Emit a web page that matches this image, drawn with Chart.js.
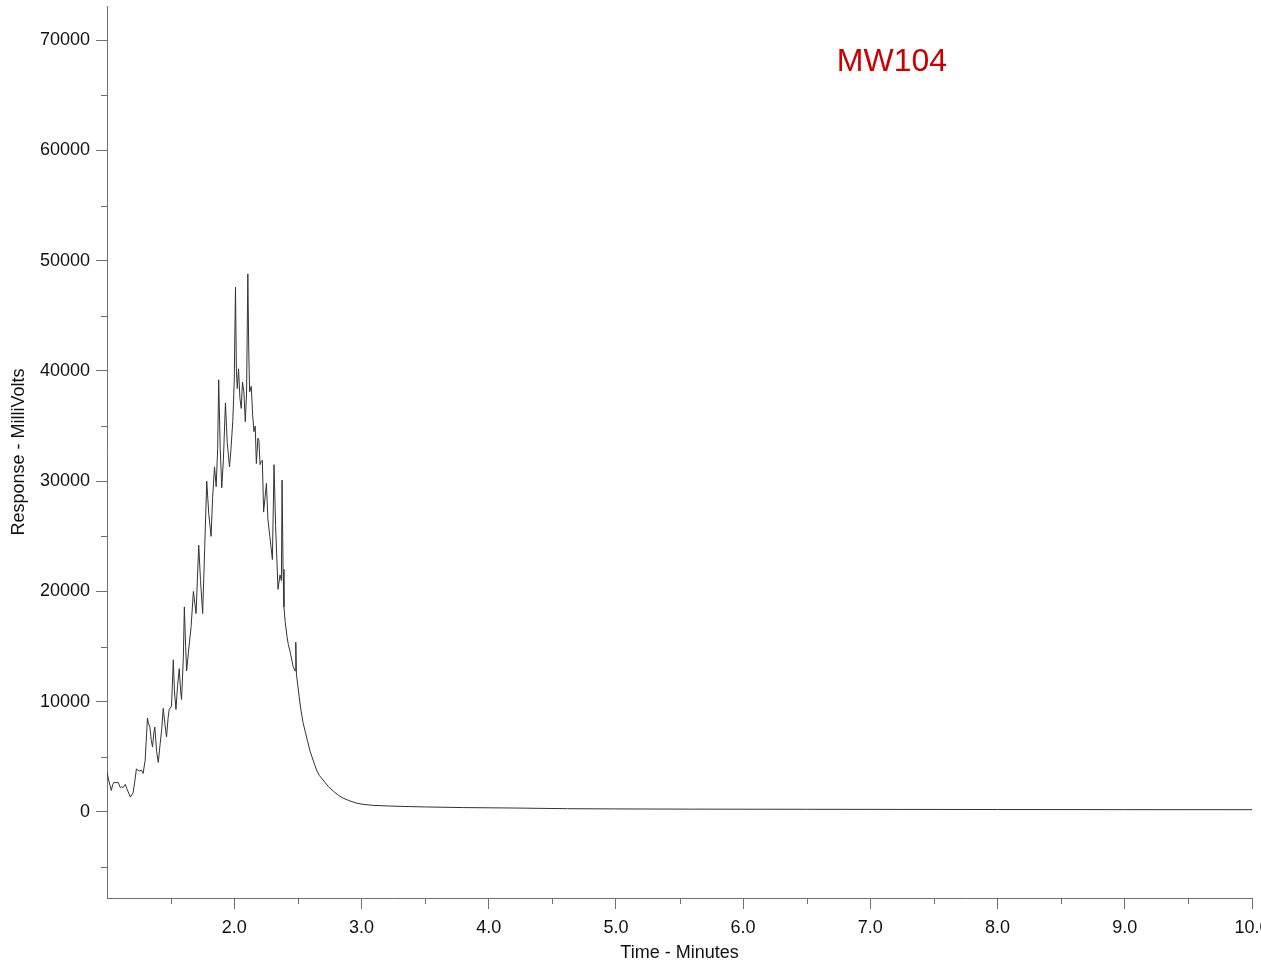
<!DOCTYPE html>
<html>
<head>
<meta charset="utf-8">
<script src="https://cdn.jsdelivr.net/npm/chart.js@4/dist/chart.umd.min.js"></script>
<style>
html,body{margin:0;padding:0;background:#fff;overflow:hidden}
#wrap{width:1261px;height:963px}
</style>
</head>
<body>
<div id="wrap"><canvas id="c" width="1261" height="963"></canvas></div>
<script>
// ---- data ----
const times = [
  1.000,1.015,1.034,1.045,1.055,1.070,1.087,1.105,1.115,1.126,1.144,1.160,1.184,1.205,1.220,1.231,1.253,1.270,1.284,1.300,
  1.318,1.327,1.337,1.348,1.358,1.368,1.376,1.390,1.403,1.416,1.430,1.442,1.455,1.468,1.480,1.489,1.507,1.521,1.530,1.542,
  1.555,1.568,1.578,1.586,1.600,1.608,1.618,1.626,1.640,1.661,1.679,1.700,1.721,1.735,1.752,1.768,1.784,1.800,1.818,1.830,
  1.845,1.858,1.870,1.878,1.890,1.902,1.915,1.931,1.945,1.963,1.975,1.989,2.000,2.010,2.017,2.024,2.034,2.045,2.055,2.065,
  2.076,2.087,2.097,2.107,2.114,2.121,2.134,2.145,2.155,2.165,2.174,2.186,2.194,2.203,2.213,2.221,2.231,2.242,2.253,2.265,
  2.280,2.300,2.313,2.325,2.344,2.360,2.371,2.376,2.384,2.391,2.400,2.415,2.425,2.440,2.463,2.478,2.484,2.489,2.510,2.525,
  2.541,2.560,2.575,2.594,2.620,2.647,2.670,2.699,2.740,2.778,2.820,2.857,2.910,2.963,3.020,3.094,3.200,3.305,3.500,3.804,
  4.200,4.620,5.000,5.600,6.500,7.225,8.000,9.000,10.000
];
const response = [
  3600,2800,1950,2500,2700,2650,2700,2200,2300,2200,2500,2000,1350,1750,2900,3900,3700,3800,3500,4700,
  8500,8000,7700,6500,5900,7200,7700,5500,4500,6000,7500,9400,8000,6800,8500,9300,9600,13800,11000,9300,
  11500,13000,11000,10200,14000,18600,15000,12800,14500,16800,20000,18000,24200,21000,18000,24000,30000,27000,25000,28500,
  31300,29500,33000,39200,33000,29400,32000,37100,33500,31300,33000,35500,39000,47600,40000,38400,40200,37500,36600,39000,
  38100,35400,38000,48800,42000,38100,38600,36000,34500,35000,31600,33900,33700,31500,31800,31900,27200,28500,29800,26500,
  25000,22900,31500,26000,20200,21500,21000,30100,22000,18600,17300,15900,15200,14500,13200,12800,15400,12500,10500,9200,
  8100,7200,6500,5600,4700,3800,3300,2900,2300,1900,1500,1250,1000,800,680,600,550,510,460,400,
  360,300,280,260,245,235,225,215,210
];
const xMajorTicks = [2,3,4,5,6,7,8,9,10];
const xMinorTicks = [1.5,2.5,3.5,4.5,5.5,6.5,7.5,8.5,9.5];
const yMajorTicks = [0,10000,20000,30000,40000,50000,60000,70000];
const yMinorTicks = [-5000,5000,15000,25000,35000,45000,55000,65000];
const xRange = [1.0, 10.0];
const yRange = [-7800, 73100];
const sampleName = 'MW104';
const sampleLabelPos = [7.17, 68000];
const xTitle = 'Time - Minutes';
const yTitle = 'Response - MilliVolts';

const points = times.map((t, i) => ({x: t, y: response[i]}));
const axisColor = '#707070';
const fontFam = '"Liberation Sans", Arial, sans-serif';

const minorTicksPlugin = {
  id: 'minorTicks',
  afterDraw(chart) {
    const ctx = chart.ctx;
    const xs = chart.scales.x, ys = chart.scales.y;
    const ca = chart.chartArea;
    ctx.save();
    ctx.strokeStyle = axisColor;
    ctx.lineWidth = 1;
    ctx.beginPath();
    xMinorTicks.forEach(v => {
      const px = Math.round(xs.getPixelForValue(v)) + 0.5;
      ctx.moveTo(px, ca.bottom);
      ctx.lineTo(px, ca.bottom + 6);
    });
    yMinorTicks.forEach(v => {
      const py = Math.round(ys.getPixelForValue(v)) + 0.5;
      ctx.moveTo(ca.left - 6, py);
      ctx.lineTo(ca.left, py);
    });
    ctx.stroke();
    // sample label
    ctx.fillStyle = '#cc0000';
    ctx.font = '32px ' + fontFam;
    ctx.textAlign = 'center';
    ctx.textBaseline = 'middle';
    ctx.fillText(sampleName, xs.getPixelForValue(sampleLabelPos[0]), ys.getPixelForValue(sampleLabelPos[1]));
    ctx.restore();
  }
};

new Chart(document.getElementById('c'), {
  type: 'line',
  data: {
    datasets: [{
      data: points,
      borderColor: '#333333',
      borderWidth: 1,
      pointRadius: 0,
      tension: 0,
      fill: false
    }]
  },
  options: {
    responsive: false,
    animation: false,
    devicePixelRatio: 1,
    layout: { padding: { left: 0, top: 6, right: 9, bottom: 0 } },
    plugins: { legend: { display: false }, tooltip: { enabled: false }, title: { display: false } },
    scales: {
      x: {
        type: 'linear',
        min: xRange[0], max: xRange[1],
        afterBuildTicks: s => { s.ticks = xMajorTicks.map(v => ({value: v})); },
        afterFit: s => { s.height = 65; s.paddingLeft = 0; s.paddingRight = 0; },
        ticks: {
          callback: v => Number(v).toFixed(1),
          color: '#111', padding: 8, maxRotation: 0, autoSkip: false,
          font: { family: fontFam, size: 18 }
        },
        grid: { drawOnChartArea: false, drawTicks: true, tickLength: 11, tickColor: axisColor },
        border: { display: true, color: axisColor, width: 1 },
        title: { display: true, text: xTitle, color: '#111', font: { family: fontFam, size: 18 }, padding: { top: 2, bottom: -1 } }
      },
      y: {
        type: 'linear',
        min: yRange[0], max: yRange[1],
        afterBuildTicks: s => { s.ticks = yMajorTicks.map(v => ({value: v})); },
        afterFit: s => { s.width = 107; s.paddingTop = 0; s.paddingBottom = 0; },
        ticks: {
          callback: v => String(v),
          color: '#111', padding: 6, autoSkip: false,
          font: { family: fontFam, size: 18 }
        },
        grid: { drawOnChartArea: false, drawTicks: true, tickLength: 11, tickColor: axisColor },
        border: { display: true, color: axisColor, width: 1 },
        title: { display: true, text: yTitle, color: '#111', font: { family: fontFam, size: 18 }, padding: { top: 8, bottom: 0 } }
      }
    }
  },
  plugins: [minorTicksPlugin]
});
</script>
</body>
</html>
